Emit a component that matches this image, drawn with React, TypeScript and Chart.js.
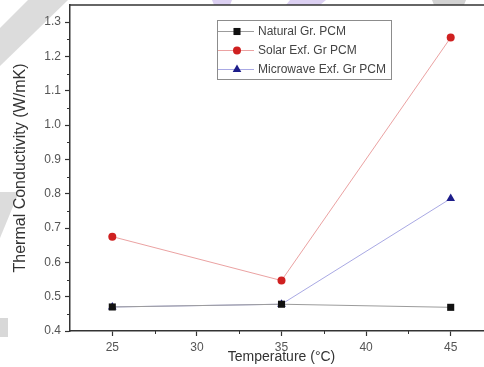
import { useEffect, useRef } from 'react';
import { Chart, registerables } from 'chart.js';

Chart.register(...registerables);

// Measured thermal conductivity of the three graphite/PCM composites
const temperatures = [25, 35, 45];
const naturalGr = [0.47, 0.478, 0.469];
const solarExf = [0.675, 0.547, 1.255];
const microwaveExf = [0.47, 0.478, 0.786];
const seriesNames = ['Natural Gr. PCM', 'Solar Exf. Gr PCM', 'Microwave Exf. Gr PCM'];

// Axis ticks
const xTicks = [25, 30, 35, 40, 45];
const xMinorTicks = [27.5, 32.5, 37.5, 42.5];
const yTicks = [0.4, 0.5, 0.6, 0.7, 0.8, 0.9, 1.0, 1.1, 1.2, 1.3];
const yMinorTicks = [0.45, 0.55, 0.65, 0.75, 0.85, 0.95, 1.05, 1.15, 1.25];

const FONT = '"Liberation Sans", Arial, sans-serif';
const AXIS = '#333333';

const styles = [
  { line: '#9c9c9c', mark: '#111111', shape: 'rect', radius: 5 },
  { line: '#eba2a2', mark: '#cf2020', shape: 'circle', radius: 4 },
  { line: '#a9a9e4', mark: '#1d1d8a', shape: 'triangle', radius: 5 },
];

function drawMarker(ctx: CanvasRenderingContext2D, shape: string, x: number, y: number, r: number, color: string) {
  ctx.save();
  ctx.fillStyle = color;
  ctx.beginPath();
  if (shape === 'rect') {
    const s = r * Math.SQRT1_2;
    ctx.rect(x - s, y - s, 2 * s, 2 * s);
  } else if (shape === 'circle') {
    ctx.arc(x, y, r, 0, Math.PI * 2);
  } else {
    ctx.moveTo(x, y - r);
    ctx.lineTo(x + r * Math.sin((2 * Math.PI) / 3), y + r / 2);
    ctx.lineTo(x - r * Math.sin((2 * Math.PI) / 3), y + r / 2);
    ctx.closePath();
  }
  ctx.fill();
  ctx.restore();
}

function poly(ctx: CanvasRenderingContext2D, pts: number[][], color: string) {
  ctx.fillStyle = color;
  ctx.beginPath();
  pts.forEach(([x, y], i) => (i ? ctx.lineTo(x, y) : ctx.moveTo(x, y)));
  ctx.closePath();
  ctx.fill();
}

const decorPlugin = {
  id: 'decor',
  beforeDraw(chart: any) {
    const ctx = chart.ctx as CanvasRenderingContext2D;
    ctx.save();
    ctx.fillStyle = '#ffffff';
    ctx.fillRect(0, 0, chart.width, chart.height);
    // faint page watermark shapes behind the plot
    poly(ctx, [[28, 0], [68, 0], [0, 66], [0, 28]], '#dcdcdc');
    poly(ctx, [[0, 192], [19, 192], [0, 238]], '#dcdcdc');
    poly(ctx, [[0, 318], [8, 318], [8, 337], [0, 337]], '#d8d8d8');
    poly(ctx, [[432, 0], [466, 0], [464, 5], [434, 5]], '#d2d2d2');
    poly(ctx, [[212, 0], [232, 0], [230, 5], [214, 5]], '#dcd0f2');
    poly(ctx, [[290, 0], [326, 0], [320, 5], [286, 5]], '#dcd0f2');
    ctx.restore();
  },
  afterDraw(chart: any) {
    const ctx = chart.ctx as CanvasRenderingContext2D;
    const { left, right, top, bottom } = chart.chartArea;
    const xs = chart.scales.x;
    const ys = chart.scales.y;
    ctx.save();
    // top frame line
    ctx.strokeStyle = AXIS;
    ctx.lineWidth = 1.5;
    ctx.beginPath();
    ctx.moveTo(left, top);
    ctx.lineTo(right, top);
    ctx.stroke();
    // minor ticks
    ctx.lineWidth = 1;
    ctx.beginPath();
    xMinorTicks.forEach((v) => {
      const px = Math.round(xs.getPixelForValue(v)) + 0.5;
      ctx.moveTo(px, bottom);
      ctx.lineTo(px, bottom + 3);
    });
    yMinorTicks.forEach((v) => {
      const py = Math.round(ys.getPixelForValue(v)) + 0.5;
      ctx.moveTo(left, py);
      ctx.lineTo(left - 3, py);
    });
    ctx.stroke();

    // legend box
    const bx = 217, by = 20, bw = 174, bh = 59;
    ctx.fillStyle = '#ffffff';
    ctx.fillRect(bx, by, bw, bh);
    ctx.strokeStyle = '#8c8c8c';
    ctx.lineWidth = 1;
    ctx.strokeRect(bx + 0.5, by + 0.5, bw, bh);
    ctx.font = `12px ${FONT}`;
    ctx.textBaseline = 'middle';
    ctx.textAlign = 'left';
    seriesNames.forEach((name, i) => {
      const y = 31 + i * 19;
      const st = styles[i];
      ctx.strokeStyle = st.line;
      ctx.beginPath();
      ctx.moveTo(bx + 1, y + 0.5);
      ctx.lineTo(bx + 37, y + 0.5);
      ctx.stroke();
      drawMarker(ctx, st.shape, bx + 20, y + 0.5, st.radius, st.mark);
      ctx.fillStyle = '#444444';
      ctx.fillText(name, bx + 41, y + 1);
    });
    ctx.restore();
  },
};

function series(i: number, values: number[]) {
  const st = styles[i];
  return {
    label: seriesNames[i],
    data: temperatures.map((t, k) => ({ x: t, y: values[k] })),
    borderColor: st.line,
    borderWidth: 1,
    backgroundColor: st.mark,
    pointBackgroundColor: st.mark,
    pointBorderColor: st.mark,
    pointBorderWidth: 0,
    pointStyle: st.shape,
    pointRadius: st.radius,
    tension: 0,
    fill: false,
  };
}

export default function App() {
  const ref = useRef<HTMLCanvasElement>(null);

  useEffect(() => {
    const canvas = ref.current;
    if (!canvas) return;
    Chart.defaults.font.family = FONT;
    const chart = new Chart(canvas, {
      type: 'line',
      data: {
        datasets: [series(0, naturalGr), series(1, solarExf), series(2, microwaveExf)] as any,
      },
      options: {
        responsive: false,
        animation: false,
        devicePixelRatio: 1,
        layout: { padding: { top: 5, right: 1, left: 0, bottom: 0 } },
        plugins: { legend: { display: false }, tooltip: { enabled: false } },
        scales: {
          x: {
            type: 'linear',
            min: 22.5,
            max: 47.5,
            afterBuildTicks: (s: any) => {
              s.ticks = xTicks.map((v) => ({ value: v }));
            },
            afterFit: (s: any) => {
              s.height = 36;
              s.paddingLeft = 0;
              s.paddingRight = 0;
            },
            grid: { drawOnChartArea: false, drawTicks: true, tickLength: 5, tickColor: AXIS, tickWidth: 1.2 },
            border: { color: AXIS, width: 1.5 },
            ticks: {
              color: '#555555',
              font: { size: 12 },
              padding: 4,
              maxRotation: 0,
              autoSkip: false,
              callback: (v: any) => String(v),
            },
            title: {
              display: true,
              text: 'Temperature (°C)',
              color: AXIS,
              font: { size: 14 },
              padding: { top: 0, bottom: 1 },
            },
          },
          y: {
            type: 'linear',
            min: 0.4,
            max: 1.35,
            afterBuildTicks: (s: any) => {
              s.ticks = yTicks.map((v) => ({ value: v }));
            },
            afterFit: (s: any) => {
              s.width = 70;
              s.paddingTop = 0;
              s.paddingBottom = 0;
            },
            grid: { drawOnChartArea: false, drawTicks: true, tickLength: 5, tickColor: AXIS, tickWidth: 1.2 },
            border: { color: AXIS, width: 1.5 },
            ticks: {
              color: '#555555',
              font: { size: 12 },
              padding: 4,
              autoSkip: false,
              callback: (v: any) => Number(v).toFixed(1),
            },
            title: {
              display: true,
              text: 'Thermal Conductivity (W/mK)',
              color: AXIS,
              font: { size: 16 },
              padding: { top: 11, bottom: 0 },
            },
          },
        },
      },
      plugins: [decorPlugin],
    });
    return () => chart.destroy();
  }, []);

  return (
    <div
      style={{
        position: 'fixed',
        left: 0,
        top: 0,
        width: 484,
        height: 367,
        overflow: 'hidden',
        background: '#ffffff',
      }}
    >
      <canvas ref={ref} width={498} height={367} style={{ width: 498, height: 367, display: 'block' }} />
    </div>
  );
}
